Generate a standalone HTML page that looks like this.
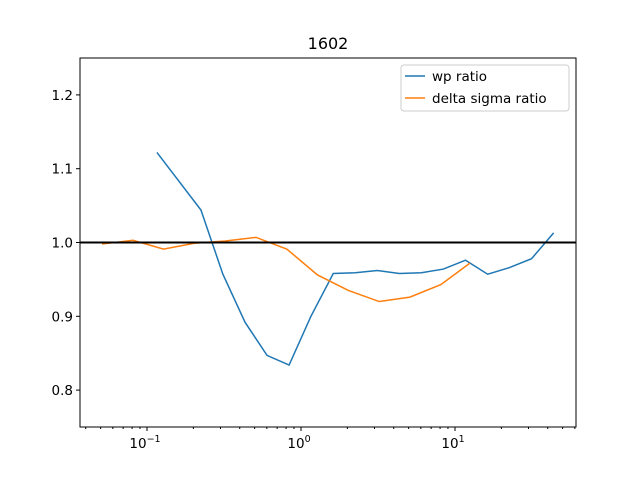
<!DOCTYPE html>
<html><head><meta charset="utf-8"><style>body{margin:0;background:#fff}svg{font-family:"DejaVu Sans","Liberation Sans",sans-serif}</style></head>
<body>
<svg id="c" width="640" height="480"></svg>
<script>
const wpX=[0.116,0.224,0.311,0.433,0.602,0.837,1.16,1.62,2.25,3.13,4.35,6.05,8.41,11.7,16.3,22.6,31.4,43.7];
const wpY=[1.122,1.044,0.957,0.892,0.847,0.834,0.9,0.958,0.959,0.962,0.958,0.959,0.964,0.976,0.957,0.966,0.978,1.013];
const dsX=[0.051,0.081,0.128,0.203,0.322,0.51,0.81,1.28,2.03,3.22,5.1,8.1,12.5];
const dsY=[0.998,1.003,0.991,0.999,1.002,1.007,0.991,0.956,0.935,0.92,0.926,0.943,0.972];
const yTicks=[0.8,0.9,1.0,1.1,1.2];
const xTicks=[0.1,1,10];
const xTickLabels=[["10","−1"],["10","0"],["10","1"]];
const L=80,R=576,T=58,B=427;
const X=v=>301+154*Math.log10(v);
const Y=v=>B-(v-0.75)/0.5*(B-T);
const s=document.getElementById('c');const NS='http://www.w3.org/2000/svg';
function mk(t,a,p){const e=document.createElementNS(NS,t);for(const k in a)e.setAttribute(k,a[k]);(p||s).appendChild(e);return e;}
let e;
e=mk('text',{x:328,y:49,'font-size':16,'text-anchor':'middle'});e.textContent='1602';


yTicks.forEach(v=>{mk('line',{x1:L-4,x2:L,y1:Y(v),y2:Y(v),stroke:'#000'});
e=mk('text',{x:L-7,y:Y(v)+5,'font-size':13.5,'text-anchor':'end'});e.textContent=v.toFixed(1);

});
xTicks.forEach((v,i)=>{mk('line',{x1:X(v),x2:X(v),y1:B,y2:B+4,stroke:'#000'});
e=mk('text',{x:X(v)-2,y:B+21,'font-size':13.5,'text-anchor':'middle'});
e.innerHTML=xTickLabels[i][0]+'<tspan dy="-6" font-size="9.5">'+xTickLabels[i][1]+'</tspan>';

});
for(let d=-2;d<=1;d++)for(let m=2;m<10;m++){const v=m*Math.pow(10,d);const px=X(v);if(px>L&&px<R)mk('line',{x1:px,x2:px,y1:B,y2:B+2,stroke:'#000'});}
function line(xs,ys,c,n){e=mk('polyline',{points:xs.map((x,i)=>X(x)+','+Y(ys[i])).join(' '),fill:'none',stroke:c,'stroke-width':1.5});

}
line(wpX,wpY,'#1f77b4','wp-ratio-line');
line(dsX,dsY,'#ff7f0e','delta-sigma-ratio-line');
e=mk('line',{x1:L,x2:R,y1:Y(1),y2:Y(1),stroke:'#000','stroke-width':2});


mk('rect',{x:L,y:T,width:R-L,height:B-T,fill:'none',stroke:'#000','stroke-width':1});
const g=mk('g',{});


mk('rect',{x:401,y:65,width:168,height:46,rx:3,fill:'#fff',stroke:'#ccc'},g);
mk('line',{x1:405,x2:425,y1:76,y2:76,stroke:'#1f77b4','stroke-width':1.5},g);
e=mk('text',{x:432,y:81,'font-size':13.5},g);e.textContent='wp ratio';


mk('line',{x1:405,x2:425,y1:98,y2:98,stroke:'#ff7f0e','stroke-width':1.5},g);
e=mk('text',{x:432,y:103,'font-size':13.5},g);e.textContent='delta sigma ratio';


</script>
</body></html>
